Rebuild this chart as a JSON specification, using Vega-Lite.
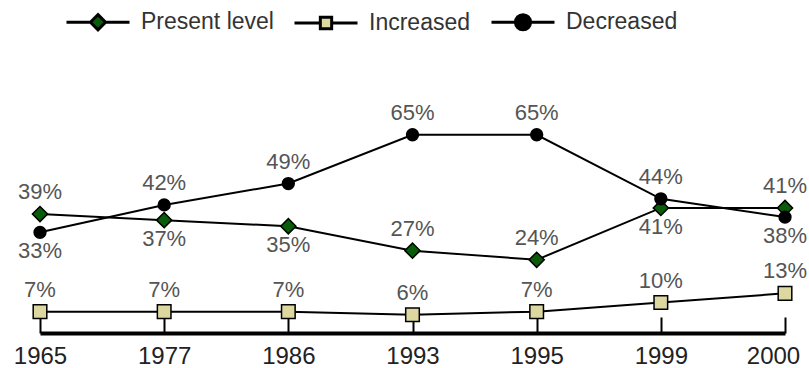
{
  "$schema": "https://vega.github.io/schema/vega-lite/v6.json",
  "autosize": {"type": "none"},
  "width": 745,
  "height": 244,
  "padding": {"left": 40, "top": 89, "right": 24, "bottom": 35},
  "background": "white",
  "config": {"view": {"stroke": null}, "font": "Liberation Sans"},
  "data": {
    "values": [
      {"year": 1965, "series": "Present level", "value": 39},
      {"year": 1977, "series": "Present level", "value": 37},
      {"year": 1986, "series": "Present level", "value": 35},
      {"year": 1993, "series": "Present level", "value": 27},
      {"year": 1995, "series": "Present level", "value": 24},
      {"year": 1999, "series": "Present level", "value": 41},
      {"year": 2000, "series": "Present level", "value": 41},
      {"year": 1965, "series": "Increased", "value": 7},
      {"year": 1977, "series": "Increased", "value": 7},
      {"year": 1986, "series": "Increased", "value": 7},
      {"year": 1993, "series": "Increased", "value": 6},
      {"year": 1995, "series": "Increased", "value": 7},
      {"year": 1999, "series": "Increased", "value": 10},
      {"year": 2000, "series": "Increased", "value": 13},
      {"year": 1965, "series": "Decreased", "value": 33},
      {"year": 1977, "series": "Decreased", "value": 42},
      {"year": 1986, "series": "Decreased", "value": 49},
      {"year": 1993, "series": "Decreased", "value": 65},
      {"year": 1995, "series": "Decreased", "value": 65},
      {"year": 1999, "series": "Decreased", "value": 44},
      {"year": 2000, "series": "Decreased", "value": 38}
    ]
  },
  "transform": [{"calculate": "datum.value + '%'", "as": "label"}],
  "encoding": {
    "x": {
      "field": "year", "type": "ordinal", "sort": "ascending",
      "scale": {"type": "point", "padding": 0},
      "axis": {
        "title": null, "labelAngle": 0, "labelFontSize": 24, "labelColor": "#222",
        "labelFont": "Liberation Sans", "domainColor": "black", "domainWidth": 4,
        "tickColor": "black", "tickWidth": 2, "tickSize": -16, "labelPadding": 27,
        "grid": false, "orient": "bottom",
        "labelOffset": {"condition": {"test": "datum.value == 2000", "value": -12}, "value": 0}
      }
    },
    "y": {
      "field": "value", "type": "quantitative",
      "scale": {"domain": [0, 80], "nice": false, "zero": true},
      "axis": null
    }
  },
  "resolve": {"scale": {"shape": "independent", "fill": "independent", "size": "independent", "stroke": "independent"}},
  "layer": [
    {
      "mark": {"type": "line", "color": "black", "strokeWidth": 2},
      "encoding": {"detail": {"field": "series"}}
    },
    {
      "mark": {"type": "point", "filled": true, "stroke": "black", "strokeWidth": 1.5, "opacity": 1},
      "encoding": {
        "shape": {"field": "series", "legend": null,
          "scale": {"domain": ["Present level", "Increased", "Decreased"], "range": ["diamond", "square", "circle"]}},
        "fill": {"field": "series", "legend": null,
          "scale": {"domain": ["Present level", "Increased", "Decreased"], "range": ["#0a5c0a", "#dcd8a0", "black"]}},
        "size": {"field": "series", "legend": null,
          "scale": {"domain": ["Present level", "Increased", "Decreased"], "range": [230, 140, 250]}}
      }
    },
    {
      "transform": [{"filter": "!((datum.series == 'Decreased' && (datum.year == 1965 || datum.year == 2000)) || (datum.series == 'Present level' && (datum.year == 1977 || datum.year == 1986 || datum.year == 1999)))"}],
      "mark": {"type": "text", "dy": -22, "fontSize": 22, "color": "#555", "baseline": "middle"},
      "encoding": {"text": {"field": "label", "type": "nominal"}}
    },
    {
      "transform": [{"filter": "(datum.series == 'Decreased' && (datum.year == 1965 || datum.year == 2000)) || (datum.series == 'Present level' && (datum.year == 1977 || datum.year == 1986 || datum.year == 1999))"}],
      "mark": {"type": "text", "dy": 19, "fontSize": 22, "color": "#555", "baseline": "middle"},
      "encoding": {"text": {"field": "label", "type": "nominal"}}
    },
    {
      "transform": [{"filter": "false"}],
      "mark": {"type": "point", "filled": true, "strokeWidth": 3, "opacity": 1},
      "encoding": {
        "shape": {"field": "series", "title": null,
          "scale": {"domain": ["Present level", "Increased", "Decreased"],
            "range": [
              "M-1,0H-0.24M0.24,0H1M0,-0.24L0.24,0L0,0.24L-0.24,0Z",
              "M-1,0H-0.18M0.18,0H1M-0.18,-0.18H0.18V0.18H-0.18Z",
              "M-1,0H-0.24M0.24,0H1M0.24,0A0.24,0.24,0,1,1,-0.24,0A0.24,0.24,0,1,1,0.24,0Z"
            ]},
          "legend": {"orient": "none", "legendX": 25, "legendY": -100, "direction": "horizontal",
            "symbolSize": 3969, "symbolStrokeColor": "black", "symbolStrokeWidth": 3,
            "labelFontSize": 23, "labelColor": "#333", "labelOffset": 10, "columnPadding": 14,
            "labelFont": "Liberation Sans"}},
        "fill": {"field": "series", "title": null,
          "scale": {"domain": ["Present level", "Increased", "Decreased"], "range": ["#0a5c0a", "#dcd8a0", "black"]}},
        "stroke": {"field": "series", "title": null,
          "scale": {"domain": ["Present level", "Increased", "Decreased"], "range": ["black", "black", "black"]}}
      }
    }
  ]
}
